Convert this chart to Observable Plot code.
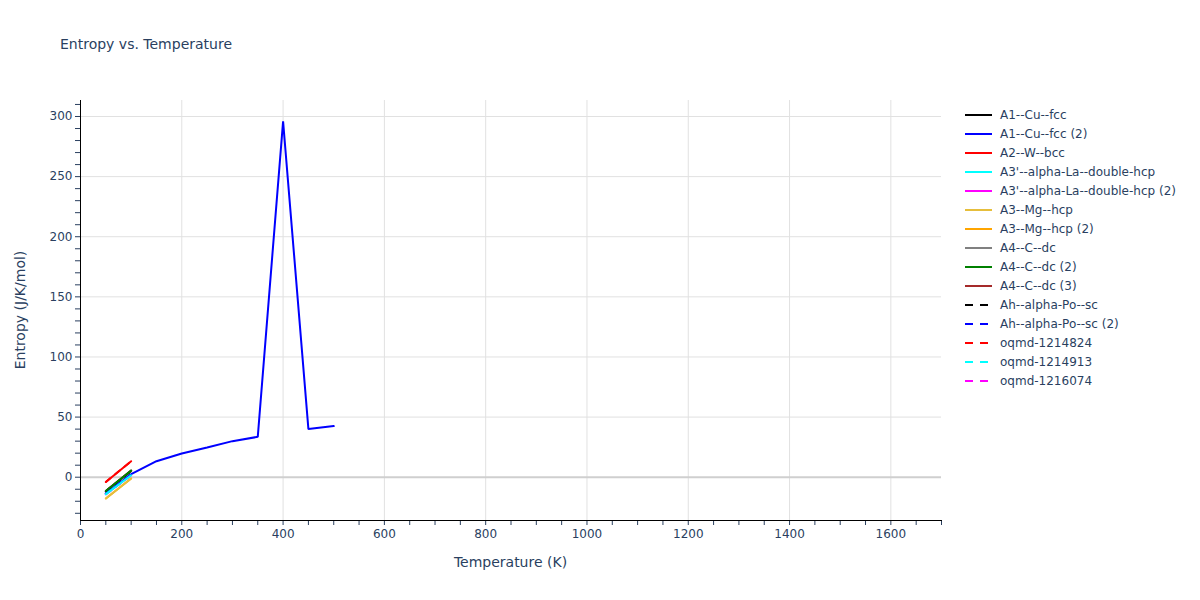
<!DOCTYPE html>
<html><head><meta charset="utf-8">
<script src="https://cdn.jsdelivr.net/npm/d3@7"></script>
<script src="https://cdn.jsdelivr.net/npm/@observablehq/plot@0.6"></script>
<style>
body{margin:0;background:#fff;font-family:"DejaVu Sans",sans-serif;}
#wrap{position:relative;width:1200px;height:600px;}
#title{position:absolute;left:60px;top:36px;font-size:14px;color:#2a3f5f;white-space:nowrap;}
#xlab{position:absolute;left:80px;width:861px;top:554px;text-align:center;font-size:14px;color:#2a3f5f;}
#ylab{position:absolute;left:20px;top:310px;font-size:14px;color:#2a3f5f;transform:translate(-50%,-50%) rotate(-90deg);white-space:nowrap;}
#legend{position:absolute;left:965px;top:105.5px;font-size:12px;color:#2a3f5f;}
.item{height:19px;display:flex;align-items:center;white-space:nowrap;}
.item svg{margin-right:8px;}
svg{overflow:visible;}
</style></head><body>
<div id="wrap"><div id="title">Entropy vs. Temperature</div><div id="xlab">Temperature (K)</div><div id="ylab">Entropy (J/K/mol)</div><div id="legend"></div></div>
<script>
// ---- data ----
const seriesNames = ["A1--Cu--fcc","A1--Cu--fcc (2)","A2--W--bcc","A3'--alpha-La--double-hcp","A3'--alpha-La--double-hcp (2)","A3--Mg--hcp","A3--Mg--hcp (2)","A4--C--dc","A4--C--dc (2)","A4--C--dc (3)","Ah--alpha-Po--sc","Ah--alpha-Po--sc (2)","oqmd-1214824","oqmd-1214913","oqmd-1216074"];
const seriesColors = ["#000000","#0000ff","#ff0000","#00ffff","#ff00ff","#e6be3c","#ffa500","#808080","#008000","#a52a2a","#000000","#0000ff","#ff0000","#00ffff","#ff00ff"];
const seriesDashed = [false,false,false,false,false,false,false,false,false,false,true,true,true,true,true];
// draw order: hidden (overlapped) series first, visible ones last
const drawOrder = [0,4,6,7,9,10,11,12,13,14,1,2,3,5,8];

const tempLong = [50,100,150,200,250,300,350,400,450,500];
const tempShort = [50,100];
const s_A1_Cu_fcc = [-11.6, 5.2];
const s_A1_Cu_fcc_2 = [-13.6, 2.5, 13.3, 19.7, 24.7, 30.0, 33.6, 296, 40.0, 42.5];
const s_A2_W_bcc = [-3.9, 13.3];
const s_A3p_La = [-14.1, 1.6];
const s_A3p_La_2 = [-14.1, 1.6];
const s_A3_Mg = [-17.7, -1.1];
const s_A3_Mg_2 = [-17.7, -1.1];
const s_A4_C_dc = [-11.4, 5.5];
const s_A4_C_dc_2 = [-11.4, 5.5];
const s_A4_C_dc_3 = [-11.4, 5.5];
const s_Ah_Po = [-11.6, 5.2];
const s_Ah_Po_2 = [-13.6, 2.5];
const s_oqmd_1214824 = [-3.9, 13.3];
const s_oqmd_1214913 = [-14.1, 1.6];
const s_oqmd_1216074 = [-14.1, 1.6];
const seriesValues = [s_A1_Cu_fcc, s_A1_Cu_fcc_2, s_A2_W_bcc, s_A3p_La, s_A3p_La_2, s_A3_Mg, s_A3_Mg_2, s_A4_C_dc, s_A4_C_dc_2, s_A4_C_dc_3, s_Ah_Po, s_Ah_Po_2, s_oqmd_1214824, s_oqmd_1214913, s_oqmd_1216074];
const seriesTemps = seriesValues.map(v => v.length === tempLong.length ? tempLong : tempShort);

const xMajor = [0,200,400,600,800,1000,1200,1400,1600];
const yMajor = [0,50,100,150,200,250,300];

// ---- chart ----
const marks = [
  Plot.ruleX(xMajor.filter(d => d > 0), {stroke:"#e1e1e1", strokeWidth:1}),
  Plot.ruleY(yMajor.filter(d => d !== 0), {stroke:"#e1e1e1", strokeWidth:1}),
  Plot.ruleY([0], {stroke:"#cfcfcf", strokeWidth:2}),
  Plot.axisX({ticks: d3.range(0,1701,50), tickSize:5, tickPadding:4, tickFormat: d => d % 200 === 0 ? String(d) : "", label:null, fontSize:12}),
  Plot.axisY({ticks: d3.range(-30,311,10), tickSize:5, tickPadding:3, tickFormat: d => d % 50 === 0 ? String(d) : "", label:null, fontSize:12}),
  Plot.frame({anchor:"left", stroke:"#000"}),
  Plot.frame({anchor:"bottom", stroke:"#000"})
];
for (const i of drawOrder) {
  const rows = seriesValues[i].map((v, k) => ({t: seriesTemps[i][k], s: v}));
  marks.push(Plot.line(rows, {x:"t", y:"s", stroke: seriesColors[i], strokeWidth:2, strokeDasharray: seriesDashed[i] ? "6,6" : null, strokeLinejoin:"miter", clip:true}));
}
const chart = Plot.plot({
  width:1200, height:600,
  marginLeft:80, marginRight:259, marginTop:100, marginBottom:80,
  x:{domain:[0,1700]},
  y:{domain:[-36,313.3]},
  style:{fontFamily:"'DejaVu Sans', sans-serif", color:"#2a3f5f", background:"transparent", fontSize:"12px"},
  marks
});
chart.style.position = "absolute";
chart.style.left = "0"; chart.style.top = "0";
document.getElementById("wrap").prepend(chart);

// legend
const lg = document.getElementById("legend");
seriesNames.forEach((n, i) => {
  const it = document.createElement("div");
  it.className = "item";
  it.innerHTML = `<svg width="27" height="4"><line x1="0" y1="2" x2="27" y2="2" stroke="${seriesColors[i]}" stroke-width="2" ${seriesDashed[i] ? 'stroke-dasharray="8,7"' : ''}/></svg><span>${n}</span>`;
  lg.appendChild(it);
});
</script>
</body></html>
